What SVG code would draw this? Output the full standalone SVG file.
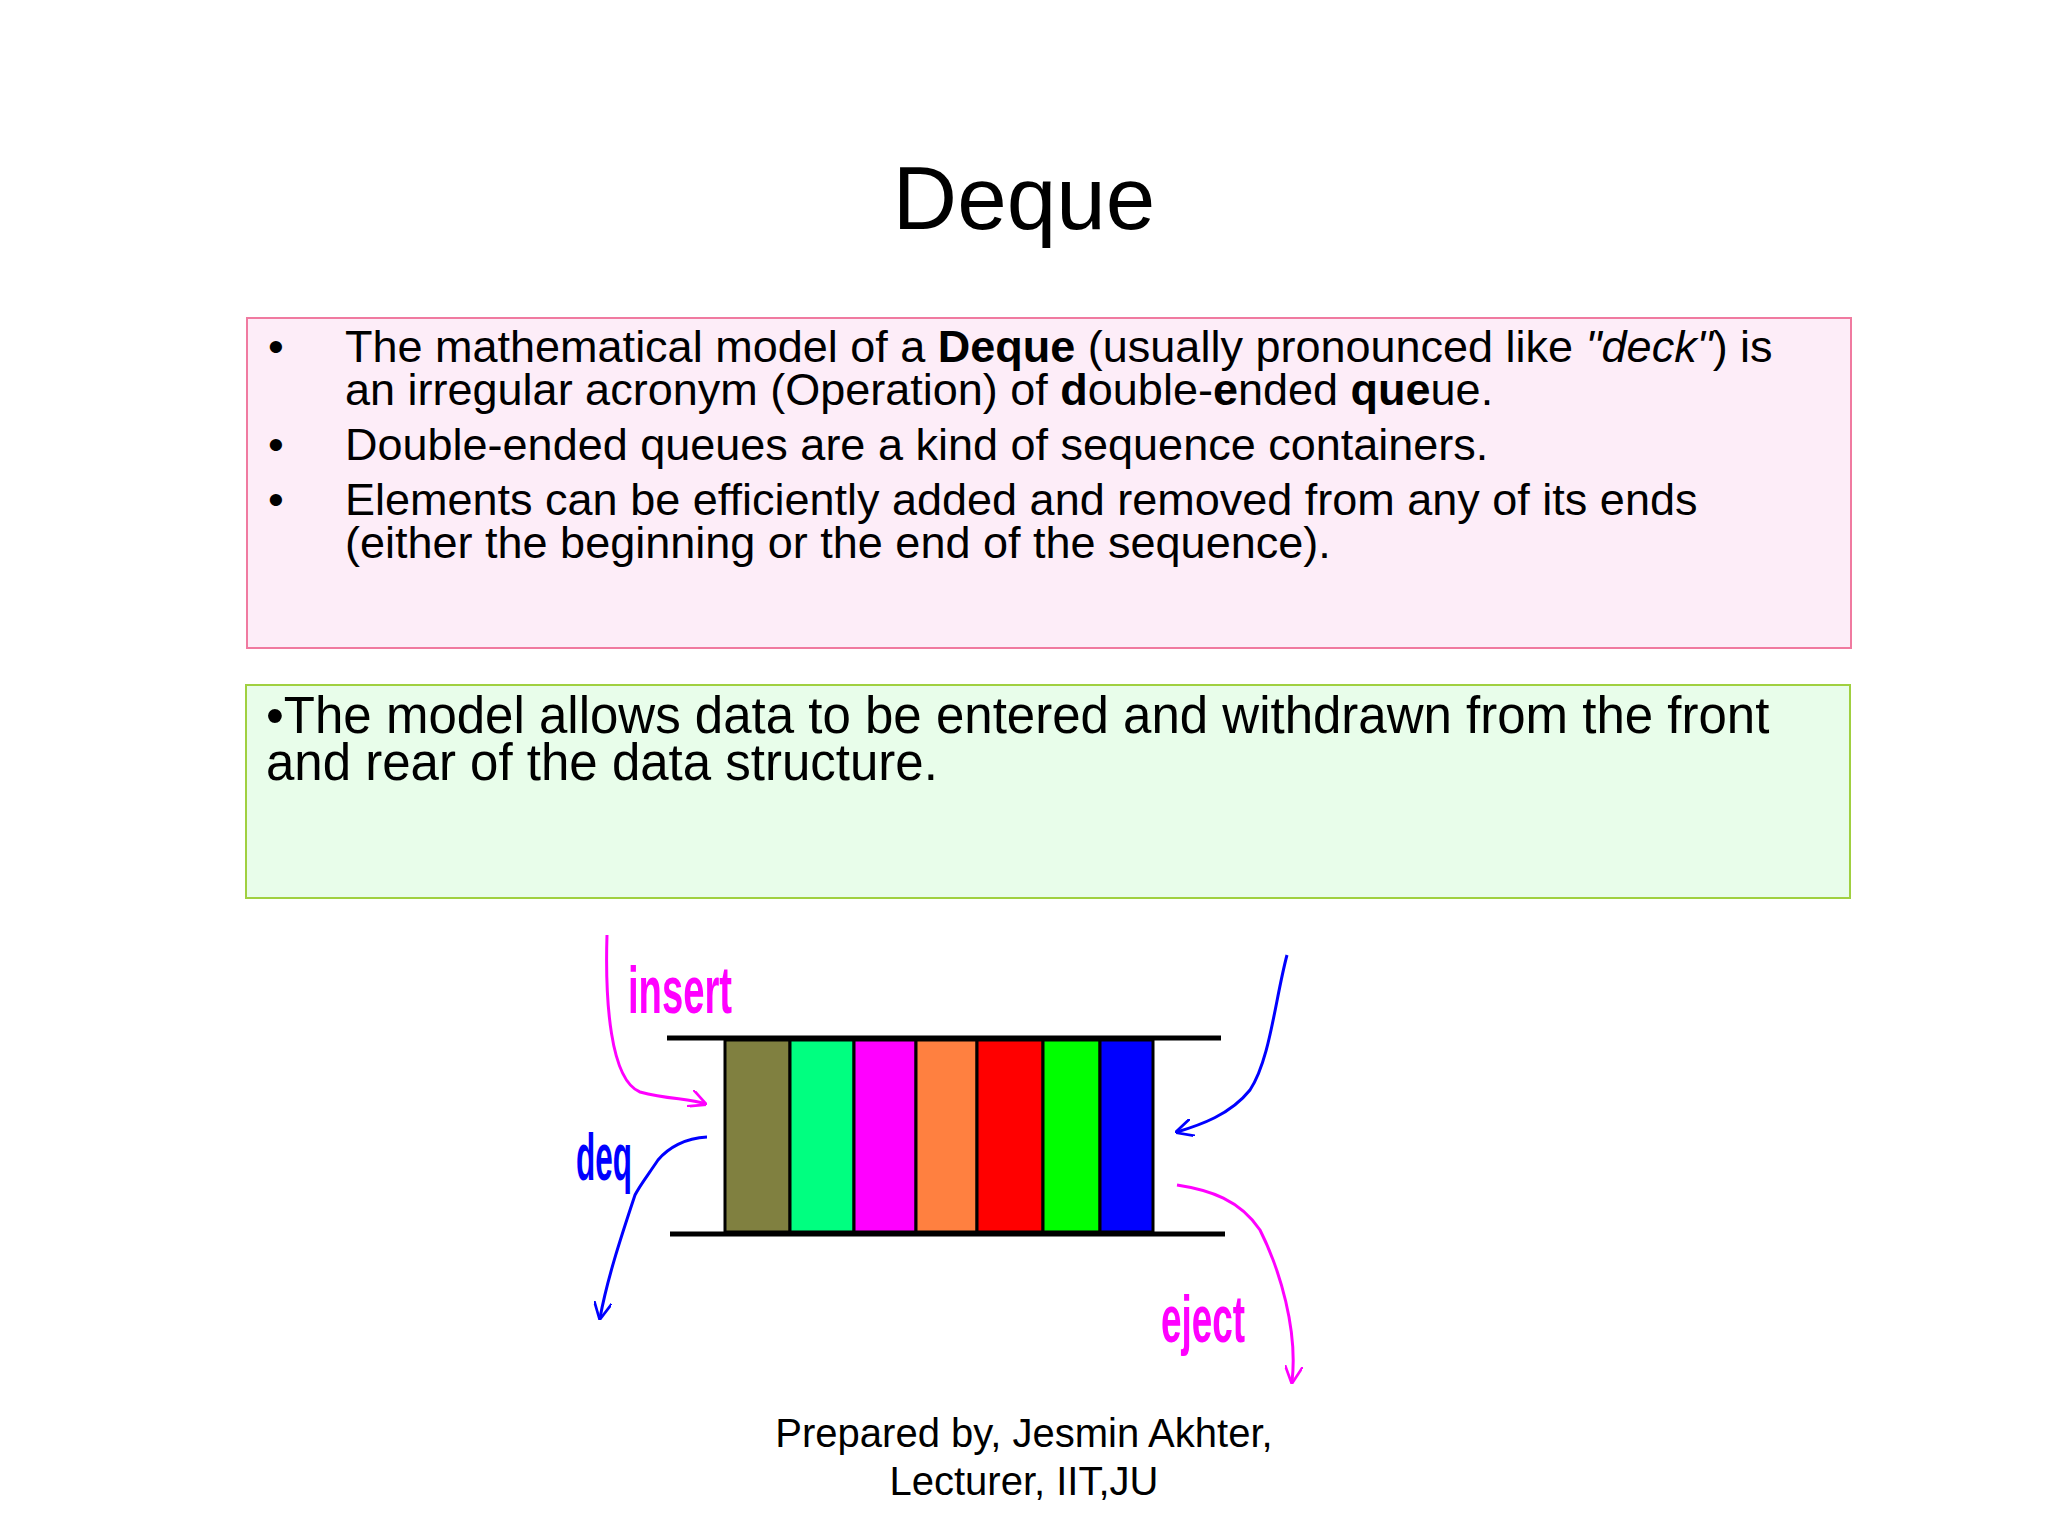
<svg xmlns="http://www.w3.org/2000/svg" width="2048" height="1536" viewBox="0 0 2048 1536">
<style>
text{font-family:"Liberation Sans",Arial,sans-serif;fill:#000}
.b{font-size:45px}
.g{font-size:51px}
.lbl{font-family:"Liberation Sans",sans-serif;font-weight:bold;font-size:66px}
.cell{stroke:#000;stroke-width:3}
.arr{fill:none;stroke-width:3}
</style>
<defs>
<marker id="am" viewBox="0 0 10 10" refX="9" refY="5" markerWidth="18" markerHeight="18" orient="auto" markerUnits="userSpaceOnUse"><path d="M0,0 L10,5 L0,10" fill="none" stroke="#ff00ff" stroke-width="1.5"/></marker>
<marker id="ab" viewBox="0 0 10 10" refX="9" refY="5" markerWidth="18" markerHeight="18" orient="auto" markerUnits="userSpaceOnUse"><path d="M0,0 L10,5 L0,10" fill="none" stroke="#0000ff" stroke-width="1.5"/></marker>
</defs>
<rect width="2048" height="1536" fill="#fff"/>
<g id="title"><text x="1024" y="229" text-anchor="middle" font-size="89">Deque</text></g>
<g id="box1">
<rect x="247" y="318" width="1604" height="330" fill="#fdedf8" stroke="#f07aa0" stroke-width="2"/>
<text class="b" x="268" y="362">•</text>
<text class="b" x="345" y="362">The mathematical model of a <tspan font-weight="bold">Deque</tspan> (usually pronounced like <tspan font-style="italic">"deck"</tspan>) is</text>
<text class="b" x="345" y="405">an irregular acronym (Operation)  of <tspan font-weight="bold">d</tspan>ouble-<tspan font-weight="bold">e</tspan>nded <tspan font-weight="bold">que</tspan>ue.</text>
<text class="b" x="268" y="460">•</text>
<text class="b" x="345" y="460"> Double-ended queues are a kind of sequence containers.</text>
<text class="b" x="268" y="515">•</text>
<text class="b" x="345" y="515">Elements can be efficiently added and removed from any of its ends</text>
<text class="b" x="345" y="558">(either the beginning or the end of the sequence).</text>
</g>
<g id="box2">
<rect x="246" y="685" width="1604" height="213" fill="#e8fdea" stroke="#a0d040" stroke-width="2"/>
<text class="g" x="266" y="733">•The model allows data to be entered and withdrawn from the front</text>
<text class="g" x="266" y="780">and rear of the data structure.</text>
</g>
<g id="deque">
<line x1="667" y1="1038" x2="1221" y2="1038" stroke="#000" stroke-width="5"/>
<line x1="670" y1="1234" x2="1225" y2="1234" stroke="#000" stroke-width="5"/>
<rect class="cell" x="725" y="1040" width="65" height="192" fill="#808040"/>
<rect class="cell" x="790" y="1040" width="64" height="192" fill="#00ff80"/>
<rect class="cell" x="854" y="1040" width="62" height="192" fill="#ff00ff"/>
<rect class="cell" x="916" y="1040" width="61" height="192" fill="#ff8040"/>
<rect class="cell" x="977" y="1040" width="66" height="192" fill="#ff0000"/>
<rect class="cell" x="1043" y="1040" width="57" height="192" fill="#00ff00"/>
<rect class="cell" x="1100" y="1040" width="53" height="192" fill="#0000ff"/>
</g>
<g id="labels">
<text class="lbl" x="628" y="1013" textLength="104" lengthAdjust="spacingAndGlyphs" style="fill:#ff00ff">insert</text>
<text class="lbl" x="576" y="1180" textLength="56" lengthAdjust="spacingAndGlyphs" style="fill:#0000ff">deq</text>
<text class="lbl" x="1161" y="1342" textLength="84" lengthAdjust="spacingAndGlyphs" style="fill:#ff00ff">eject</text>
</g>
<g id="connectors">
<path class="arr" stroke="#ff00ff" d="M607,935 C605,1000 610,1080 640,1092 C670,1100 690,1098 705,1104" marker-end="url(#am)"/>
<path class="arr" stroke="#0000ff" d="M707,1137 C685,1138 668,1148 658,1160 C648,1175 640,1185 635,1195 C620,1240 607,1280 600,1318" marker-end="url(#ab)"/>
<path class="arr" stroke="#0000ff" d="M1287,955 C1275,1000 1270,1060 1250,1090 C1230,1115 1200,1125 1177,1132" marker-end="url(#ab)"/>
<path class="arr" stroke="#ff00ff" d="M1177,1185 C1210,1190 1240,1200 1260,1230 C1280,1270 1298,1330 1292,1382" marker-end="url(#am)"/>
</g>
<g id="footer">
<text x="1024" y="1447" text-anchor="middle" font-size="40">Prepared by, Jesmin Akhter,</text>
<text x="1024" y="1495" text-anchor="middle" font-size="40">Lecturer, IIT,JU</text>
</g>
</svg>
